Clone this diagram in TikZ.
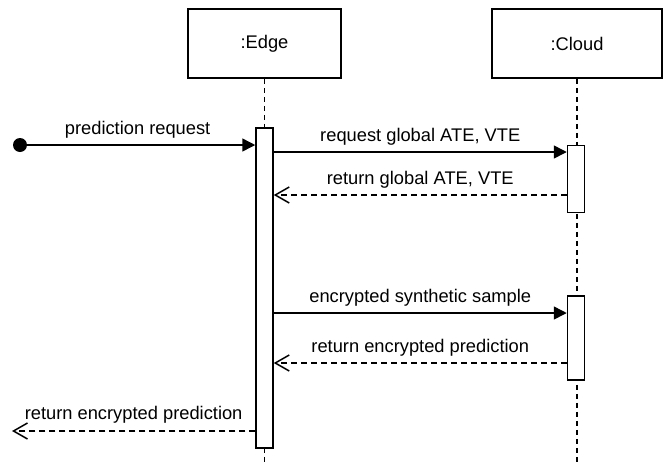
\documentclass[tikz,border=0pt]{standalone}
\usepackage{fontspec}
\setmainfont{Liberation Sans}
\usetikzlibrary{arrows.meta}
\begin{document}
\begin{tikzpicture}[x=1pt,y=-1pt,
  every node/.style={font=\fontsize{18.3}{22}\selectfont},
  actor/.style={draw,line width=1.5pt,fill=white,inner sep=0pt},
  bar/.style={draw,line width=1.5pt,fill=white,inner sep=0pt,minimum width=17pt},
  life/.style={line width=1.5pt,dash pattern=on 5pt off 4pt},
  call/.style={line width=1.5pt,-{Triangle[length=13pt,width=13pt]}},
  reply/.style={line width=1.5pt,dash pattern=on 6pt off 4pt,-{Straight Barb[length=14pt,width=16pt,line width=1.5pt]}},
  lbl/.style={text height=13pt,text depth=4pt,inner sep=0pt},
  dot/.style={circle,fill=black,minimum size=14pt,inner sep=0pt}]
\useasboundingbox (0,0) rectangle (667,464);
% actors
\node[actor,minimum width=153pt,minimum height=69pt] (edge) at (264.5,43.5) {:Edge};
\node[actor,minimum width=170pt,minimum height=69pt] (cloud) at (577,43.5) {:Cloud};
\coordinate (edgeEnd) at (264.5,464);
\coordinate (cloudEnd) at (577,464);
\draw[life] (edge.south) -- (edgeEnd);
\draw[life] (cloud.south) -- (cloudEnd);
% activation bars
\node[bar,minimum height=320pt] (ebar) at (264.5,288) {};
\node[bar,minimum height=67pt] (cbarA) at (576,179) {};
\node[bar,minimum height=84pt] (cbarB) at (576,338) {};
% message levels
\coordinate (m1) at (0,145);
\coordinate (m2) at (0,152);
\coordinate (m3) at (0,195);
\coordinate (m4) at (0,313);
\coordinate (m5) at (0,363);
\coordinate (m6) at (0,431);
\coordinate (out) at (12,431);
\node[dot] (start) at (20,145) {};
% messages
\draw[call] (start.center) -- (ebar.west |- m1)
  node[midway,lbl,yshift=15pt] (l1) {prediction request};
\draw[call] (ebar.east |- m2) -- (cbarA.west |- m2)
  node[midway,lbl,yshift=15pt] (l2) {request global ATE, VTE};
\draw[reply] (cbarA.west |- m3) -- (ebar.east |- m3)
  node[midway,lbl,yshift=15pt] (l3) {return global ATE, VTE};
\draw[call] (ebar.east |- m4) -- (cbarB.west |- m4)
  node[midway,lbl,yshift=15pt] (l4) {encrypted synthetic sample};
\draw[reply] (cbarB.west |- m5) -- (ebar.east |- m5)
  node[midway,lbl,yshift=15pt] (l5) {return encrypted prediction};
\draw[reply] (ebar.west |- m6) -- (out)
  node[midway,lbl,yshift=16pt] (l6) {return encrypted prediction};
\end{tikzpicture}
\end{document}
